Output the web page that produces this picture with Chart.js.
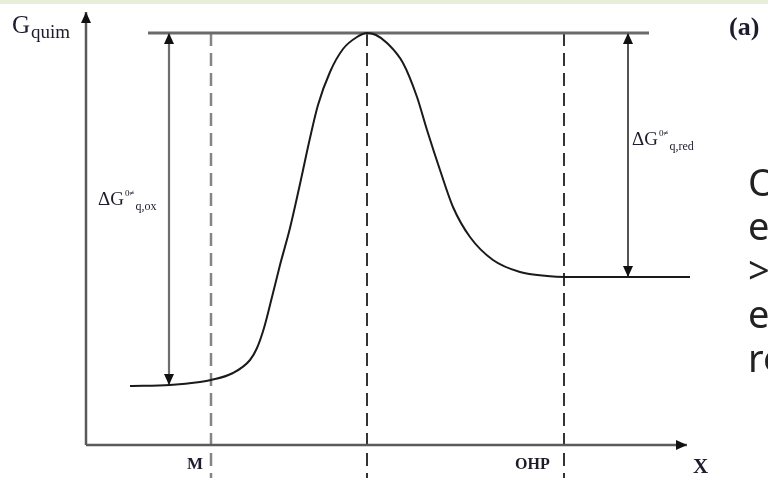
<!DOCTYPE html>
<html>
<head>
<meta charset="utf-8">
<script src="https://cdn.jsdelivr.net/npm/chart.js@4.4.1/dist/chart.umd.min.js"></script>
<style>
  html, body { margin: 0; padding: 0; background: #fff; overflow: hidden; }
  #wrap { position: relative; width: 768px; height: 478px; }
  #topband { position: absolute; left: 0; top: 0; width: 768px; height: 4px; background: #e7efd8; }
  canvas { display: block; }
</style>
</head>
<body>
<div id="wrap">
  <canvas id="diagram" width="768" height="478"></canvas>
  <div id="topband"></div>
</div>
<script>
// X = reaction coordinate, G = chemical free energy, both measured from the axes origin
const curveX = [44, 84, 114, 125, 147, 164, 171, 178, 186, 194, 204, 214, 224, 232, 244, 257, 271, 281, 290,
                301, 317, 331, 341, 354, 367, 384, 407, 434, 461, 479, 541, 604];
const curveG = [59, 60, 63, 65, 72, 85, 97, 117, 148, 180, 217, 261, 307, 340, 373, 396, 408, 412, 410,
                402, 382, 348, 315, 275, 238, 208, 185, 173, 169, 168, 168, 168];

const peakG = 412;
const peakLineX = [62, 563];
const oxArrowX = 83;
const oxLevelG = 60;
const redArrowX = 542;
const redLevelG = 168;
const markerX = [125, 281, 478];      // M, transition state, OHP
const markerBottomG = -40;
const axisXEnd = 601;
const axisGEnd = 433;

const xRange = [-86, 682];
const gRange = [-33, 445];

const serif = '"Liberation Serif", "Times New Roman", serif';
const ink = '#1c1c2c';

function segment(xs, gs) {
  return xs.map((x, i) => ({ x: x, y: gs[i] }));
}

const datasets = [
  {
    label: 'G_quim(X)',
    data: segment(curveX, curveG),
    borderColor: '#1a1a1a', borderWidth: 2,
    cubicInterpolationMode: 'monotone'
  },
  {
    label: 'peak level',
    data: segment(peakLineX, [peakG, peakG]),
    borderColor: '#6a6a6a', borderWidth: 3
  },
  {
    label: 'axis G',
    data: segment([0, 0], [0, axisGEnd]),
    borderColor: '#5a5a5a', borderWidth: 2.5,
    arrows: ['end']
  },
  {
    label: 'axis X',
    data: segment([0, axisXEnd], [0, 0]),
    borderColor: '#5a5a5a', borderWidth: 2.5,
    arrows: ['end']
  },
  {
    label: 'dG ox',
    data: segment([oxArrowX, oxArrowX], [oxLevelG, peakG]),
    borderColor: '#6e6e6e', borderWidth: 2.2,
    arrows: ['start', 'end']
  },
  {
    label: 'dG red',
    data: segment([redArrowX, redArrowX], [redLevelG, peakG]),
    borderColor: '#2a2a2a', borderWidth: 1.6,
    arrows: ['start', 'end']
  }
];

markerX.forEach((x, i) => {
  datasets.push({
    label: 'marker ' + i,
    data: segment([x, x], [peakG, markerBottomG]),
    borderColor: i === 0 ? '#858585' : '#333333',
    borderWidth: i === 0 ? 2.5 : 2,
    borderDash: [13, 7]
  });
});

datasets.forEach(ds => {
  ds.showLine = true;
  ds.pointRadius = 0;
  ds.fill = false;
  ds.clip = false;
});

// filled arrow heads at line ends
const arrowHeads = {
  id: 'arrowHeads',
  afterDatasetsDraw(chart) {
    const ctx = chart.ctx;
    const sx = chart.scales.x, sy = chart.scales.y;
    chart.data.datasets.forEach(ds => {
      if (!ds.arrows) return;
      const pts = ds.data.map(p => [sx.getPixelForValue(p.x), sy.getPixelForValue(p.y)]);
      ds.arrows.forEach(which => {
        const tip = which === 'end' ? pts[pts.length - 1] : pts[0];
        const from = which === 'end' ? pts[pts.length - 2] : pts[1];
        const ang = Math.atan2(tip[1] - from[1], tip[0] - from[0]);
        const len = 11, half = 5;
        ctx.save();
        ctx.translate(tip[0], tip[1]);
        ctx.rotate(ang);
        ctx.beginPath();
        ctx.moveTo(0, 0);
        ctx.lineTo(-len, -half);
        ctx.lineTo(-len, half);
        ctx.closePath();
        ctx.fillStyle = '#111';
        ctx.fill();
        ctx.restore();
      });
    });
  }
};

// text labels: runs of [text, font, dy]
const labels = [
  { x: -74, g: 412, runs: [['G', '25px ' + serif, 0], ['quim', '19px ' + serif, 5]] },
  { x: 643, g: 410, runs: [['(a)', 'bold 26px ' + serif, 0]] },
  { x: 12, g: 240, runs: [['ΔG', '19px ' + serif, 0], ['0≠', '9px ' + serif, -9], ['q,ox', '12px ' + serif, 5]] },
  { x: 546, g: 300, runs: [['ΔG', '19px ' + serif, 0], ['0≠', '9px ' + serif, -9], ['q,red', '12px ' + serif, 5]] },
  { x: 101, g: -24, runs: [['M', 'bold 17px ' + serif, 0]] },
  { x: 429, g: -24, runs: [['OHP', 'bold 16px ' + serif, 0]] },
  { x: 607, g: -28, runs: [['X', 'bold 21px ' + serif, 0]] }
];

const slideLines = ['O', 'e', '>', 'e', 're'];
const slideFirstG = 249;
const slideStep = 44;

const textLayer = {
  id: 'textLayer',
  afterDraw(chart) {
    const ctx = chart.ctx;
    const sx = chart.scales.x, sy = chart.scales.y;
    ctx.save();
    ctx.textBaseline = 'alphabetic';
    ctx.fillStyle = ink;
    labels.forEach(l => {
      let px = sx.getPixelForValue(l.x);
      const py = sy.getPixelForValue(l.g);
      l.runs.forEach(r => {
        ctx.font = r[1];
        ctx.fillText(r[0], px, py + r[2]);
        px += ctx.measureText(r[0]).width + 1;
      });
    });
    ctx.font = '38px "Noto Sans", sans-serif';
    ctx.fillStyle = '#222';
    slideLines.forEach((t, i) => {
      const px = sx.getPixelForValue(662);
      const py = sy.getPixelForValue(slideFirstG) + i * slideStep;
      ctx.fillText(t, px, py);
    });
    ctx.restore();
  }
};

new Chart(document.getElementById('diagram'), {
  type: 'scatter',
  data: { datasets: datasets },
  options: {
    responsive: false,
    devicePixelRatio: 1,
    animation: false,
    layout: { padding: 0 },
    plugins: { legend: { display: false }, tooltip: { enabled: false } },
    scales: {
      x: { type: 'linear', min: xRange[0], max: xRange[1], display: false },
      y: { type: 'linear', min: gRange[0], max: gRange[1], display: false }
    }
  },
  plugins: [arrowHeads, textLayer]
});
</script>
</body>
</html>
